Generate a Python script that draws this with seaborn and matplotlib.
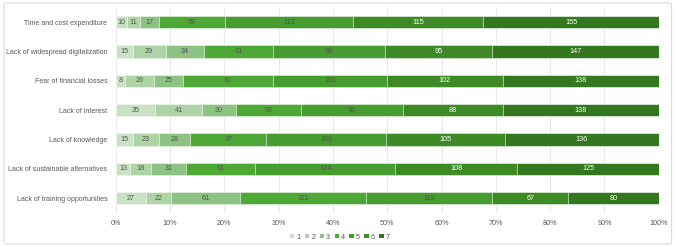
import numpy as np
import pandas as pd
import matplotlib
matplotlib.use("Agg")
import matplotlib.pyplot as plt
import seaborn as sns
from matplotlib.patches import FancyBboxPatch, Patch

categories = [
    "Time and cost expenditure",
    "Lack of widespread digitalization",
    "Fear of financial losses",
    "Lack of interest",
    "Lack of knowledge",
    "Lack of sustainable alternatives",
    "Lack of training opportunities",
]
levels = ["1", "2", "3", "4", "5", "6", "7"]
v1 = [10, 15, 8, 35, 15, 13, 27]
v2 = [11, 29, 26, 41, 23, 18, 22]
v3 = [17, 34, 25, 30, 28, 31, 61]
v4 = [59, 61, 80, 58, 67, 61, 111]
v5 = [113, 99, 101, 90, 106, 124, 112]
v6 = [115, 95, 102, 88, 105, 108, 67]
v7 = [155, 147, 138, 138, 136, 125, 80]
colors = ["#c9e2c3", "#aed4a6", "#8cc282", "#4ea836", "#469c2e", "#3e8a27", "#33781f"]
text_colors = ["#555555"] * 5 + ["#ffffff"] * 2

counts = np.array([v1, v2, v3, v4, v5, v6, v7], dtype=float)
totals = counts.sum(axis=0)
pct = counts / totals * 100
cum = np.cumsum(pct, axis=0)

sns.set_style("white")
plt.rcParams["font.family"] = ["Liberation Sans", "DejaVu Sans"]

fig = plt.figure(figsize=(6.77, 2.47), dpi=100)
ax = fig.add_axes([0.171, 0.139, 0.802, 0.831])

for i in range(len(levels) - 1, -1, -1):
    df = pd.DataFrame({"category": categories, "value": cum[i]})
    sns.barplot(data=df, y="category", x="value", order=categories,
                color=colors[i], width=0.42, ax=ax, saturation=1,
                edgecolor="white", linewidth=0.4, zorder=3)

for i in range(len(levels)):
    for j, cat in enumerate(categories):
        left = cum[i][j] - pct[i][j]
        ax.text(left + pct[i][j] / 2, j, f"{int(counts[i][j])}",
                ha="center", va="center", fontsize=5.2,
                color=text_colors[i], zorder=5)

ax.set_xlim(0, 100)
ax.set_ylim(6.5, -0.5)
ax.set_xticks(np.arange(0, 101, 10))
ax.set_xticklabels([f"{t}%" for t in range(0, 101, 10)])
ax.xaxis.grid(True, color="#e4e4e4", linewidth=0.6, zorder=0)
ax.set_axisbelow(True)
ax.set_xlabel("")
ax.set_ylabel("")
for s in ax.spines.values():
    s.set_visible(False)
ax.tick_params(axis="x", length=0, labelsize=5.2, labelcolor="#595959", pad=5)
ax.tick_params(axis="y", length=0, labelsize=5.0, labelcolor="#595959", pad=6)

handles = [Patch(facecolor=c, edgecolor="none") for c in colors]
fig.legend(handles, levels, loc="center", bbox_to_anchor=(0.502, 0.04),
           ncol=7, frameon=False, fontsize=5.2, handlelength=0.6,
           handleheight=0.6, handletextpad=0.3, columnspacing=0.6,
           labelcolor="#595959")

frame = FancyBboxPatch((0.006, 0.012), 0.986, 0.976,
                       boxstyle="round,pad=0,rounding_size=0.006",
                       transform=fig.transFigure, facecolor="none",
                       edgecolor="#d9d9d9", linewidth=0.8)
fig.patches.append(frame)

fig.savefig("out.png", dpi=100)
